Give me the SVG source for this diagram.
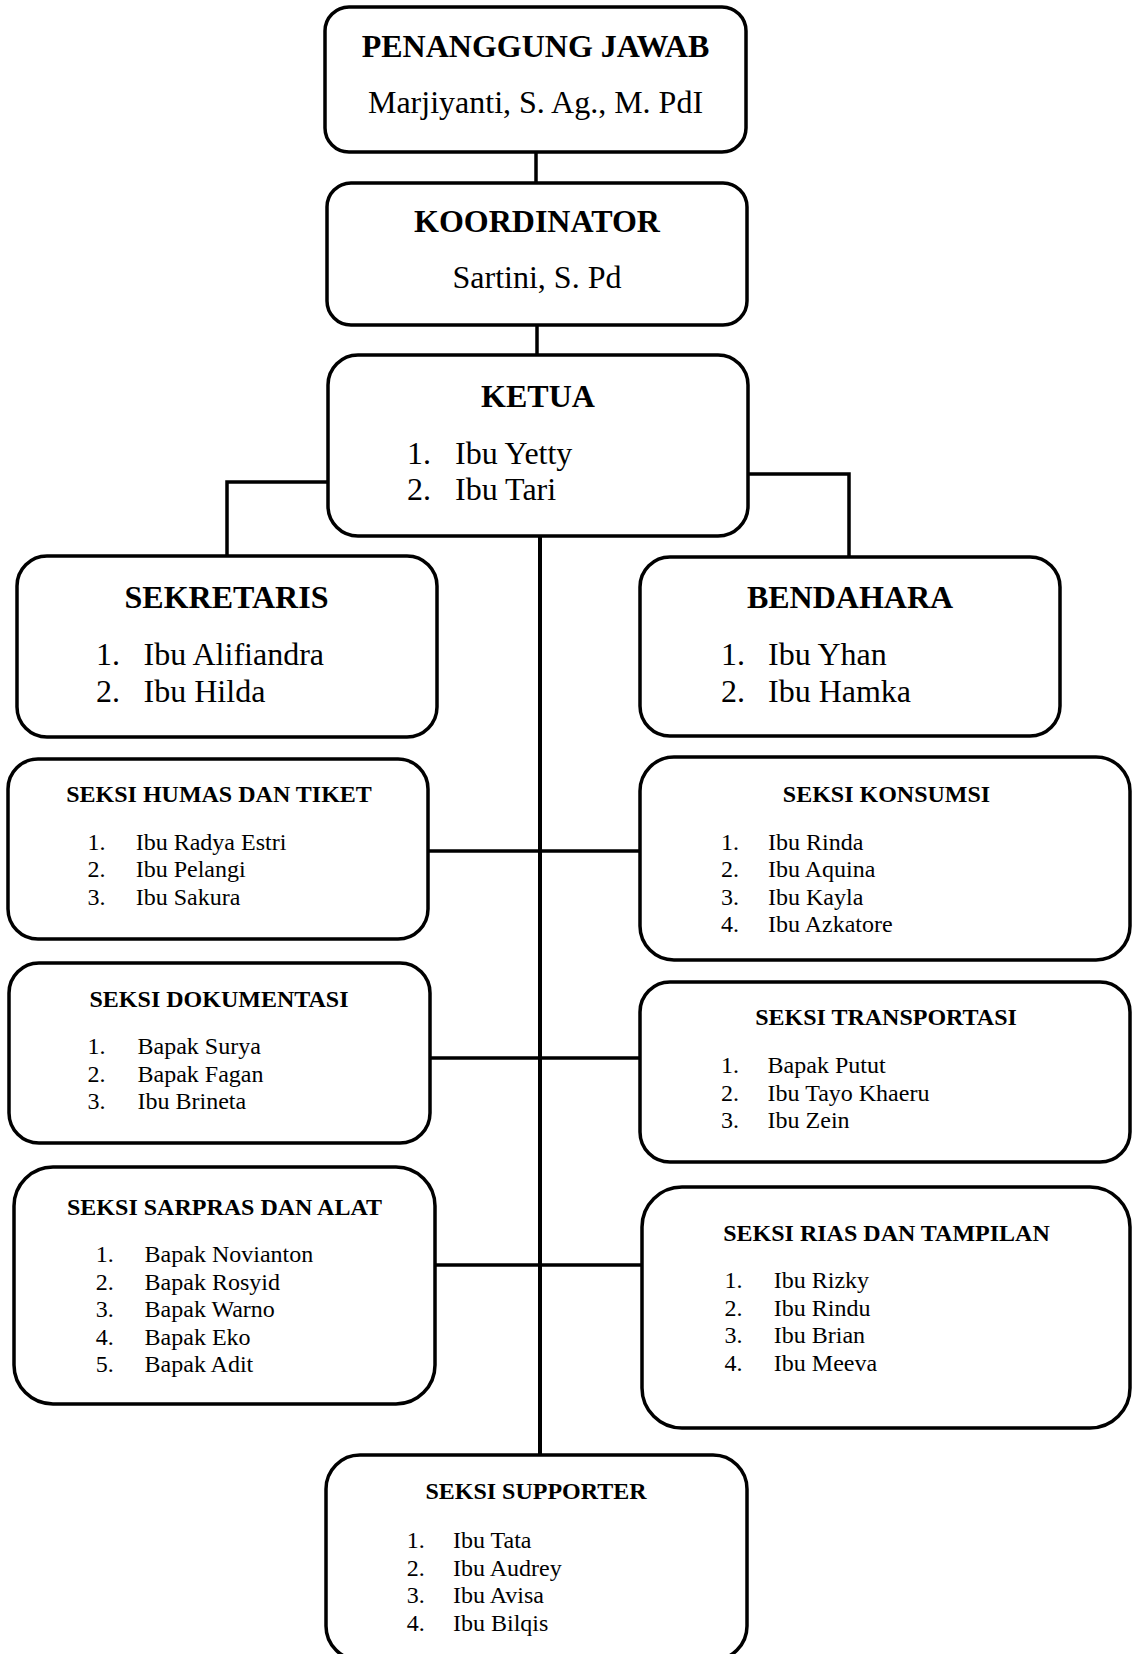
<svg xmlns="http://www.w3.org/2000/svg" width="1133" height="1654" viewBox="0 0 1133 1654">
<style>
.box{fill:#fff;stroke:#000;stroke-width:3.5}
.ln{fill:none;stroke:#000;stroke-width:3.5}
.main{fill:none;stroke:#000;stroke-width:4}
text{font-family:"Liberation Serif","Times New Roman",serif;fill:#000}
.h{font-size:32px;font-weight:bold;text-anchor:middle}
.hn{font-size:32px;text-anchor:middle}
.b{font-size:32px}
.st{font-size:24px;font-weight:bold;text-anchor:middle}
.s{font-size:24px}
</style>
<rect width="1133" height="1654" fill="#fff"/>
<g id="connectors">
<line class="ln" x1="536" y1="152" x2="536" y2="183"/>
<line class="ln" x1="537" y1="325" x2="537" y2="355"/>
<path class="ln" d="M328,482 H227 V556"/>
<path class="ln" d="M748,474 H849 V557"/>
<line class="main" x1="540" y1="537" x2="540" y2="1455"/>
<line class="ln" x1="428" y1="851" x2="640" y2="851"/>
<line class="ln" x1="430" y1="1058" x2="640" y2="1058"/>
<line class="ln" x1="435" y1="1265" x2="642" y2="1265"/>
</g>
<g id="penanggung-jawab">
<rect class="box" x="325" y="7" width="421" height="145" rx="24"/>
<text class="h" x="535.5" y="57">PENANGGUNG JAWAB</text>
<text class="hn" x="535.5" y="113">Marjiyanti, S. Ag., M. PdI</text>
</g>
<g id="koordinator">
<rect class="box" x="327" y="183" width="420" height="142" rx="24"/>
<text class="h" x="537" y="232">KOORDINATOR</text>
<text class="hn" x="537" y="288">Sartini, S. Pd</text>
</g>
<g id="ketua">
<rect class="box" x="328" y="355" width="420" height="181" rx="30"/>
<text class="h" x="538" y="407">KETUA</text>
<text class="b" x="407" y="464">1.</text><text class="b" x="455" y="464">Ibu Yetty</text>
<text class="b" x="407" y="500">2.</text><text class="b" x="455" y="500">Ibu Tari</text>
</g>
<g id="sekretaris">
<rect class="box" x="17" y="556" width="420" height="181" rx="30"/>
<text class="h" x="226.5" y="608">SEKRETARIS</text>
<text class="b" x="96" y="665">1.</text><text class="b" x="143.6" y="665">Ibu Alifiandra</text>
<text class="b" x="96" y="702">2.</text><text class="b" x="143.6" y="702">Ibu Hilda</text>
</g>
<g id="bendahara">
<rect class="box" x="640" y="557" width="420" height="179" rx="30"/>
<text class="h" x="850" y="608">BENDAHARA</text>
<text class="b" x="721" y="665">1.</text><text class="b" x="768" y="665">Ibu Yhan</text>
<text class="b" x="721" y="702">2.</text><text class="b" x="768" y="702">Ibu Hamka</text>
</g>
<g id="seksi-humas">
<rect class="box" x="8" y="759" width="420" height="180" rx="30"/>
<text class="st" x="219" y="802">SEKSI HUMAS DAN TIKET</text>
<text class="s" x="87.5" y="849.5">1.</text><text class="s" x="135.7" y="849.5">Ibu Radya Estri</text>
<text class="s" x="87.5" y="877">2.</text><text class="s" x="135.7" y="877">Ibu Pelangi</text>
<text class="s" x="87.5" y="904.5">3.</text><text class="s" x="135.7" y="904.5">Ibu Sakura</text>
</g>
<g id="seksi-konsumsi">
<rect class="box" x="640" y="757" width="490" height="203" rx="34"/>
<text class="st" x="886.5" y="802">SEKSI KONSUMSI</text>
<text class="s" x="721" y="849.5">1.</text><text class="s" x="768" y="849.5">Ibu Rinda</text>
<text class="s" x="721" y="877">2.</text><text class="s" x="768" y="877">Ibu Aquina</text>
<text class="s" x="721" y="904.5">3.</text><text class="s" x="768" y="904.5">Ibu Kayla</text>
<text class="s" x="721" y="932">4.</text><text class="s" x="768" y="932">Ibu Azkatore</text>
</g>
<g id="seksi-dokumentasi">
<rect class="box" x="9" y="963" width="421" height="180" rx="30"/>
<text class="st" x="219" y="1007">SEKSI DOKUMENTASI</text>
<text class="s" x="87.5" y="1054">1.</text><text class="s" x="137.5" y="1054">Bapak Surya</text>
<text class="s" x="87.5" y="1081.5">2.</text><text class="s" x="137.5" y="1081.5">Bapak Fagan</text>
<text class="s" x="87.5" y="1109">3.</text><text class="s" x="137.5" y="1109">Ibu Brineta</text>
</g>
<g id="seksi-transportasi">
<rect class="box" x="640" y="982" width="490" height="180" rx="30"/>
<text class="st" x="886" y="1025">SEKSI TRANSPORTASI</text>
<text class="s" x="721" y="1073">1.</text><text class="s" x="767.6" y="1073">Bapak Putut</text>
<text class="s" x="721" y="1100.5">2.</text><text class="s" x="767.6" y="1100.5">Ibu Tayo Khaeru</text>
<text class="s" x="721" y="1128">3.</text><text class="s" x="767.6" y="1128">Ibu Zein</text>
</g>
<g id="seksi-sarpras">
<rect class="box" x="14" y="1167" width="421" height="237" rx="39"/>
<text class="st" x="224.5" y="1215">SEKSI SARPRAS DAN ALAT</text>
<text class="s" x="95.7" y="1262">1.</text><text class="s" x="144.6" y="1262">Bapak Novianton</text>
<text class="s" x="95.7" y="1289.5">2.</text><text class="s" x="144.6" y="1289.5">Bapak Rosyid</text>
<text class="s" x="95.7" y="1317">3.</text><text class="s" x="144.6" y="1317">Bapak Warno</text>
<text class="s" x="95.7" y="1344.5">4.</text><text class="s" x="144.6" y="1344.5">Bapak Eko</text>
<text class="s" x="95.7" y="1372">5.</text><text class="s" x="144.6" y="1372">Bapak Adit</text>
</g>
<g id="seksi-rias">
<rect class="box" x="642" y="1187" width="488" height="241" rx="40"/>
<text class="st" x="886.5" y="1241">SEKSI RIAS DAN TAMPILAN</text>
<text class="s" x="724.5" y="1288">1.</text><text class="s" x="773.8" y="1288">Ibu Rizky</text>
<text class="s" x="724.5" y="1315.5">2.</text><text class="s" x="773.8" y="1315.5">Ibu Rindu</text>
<text class="s" x="724.5" y="1343">3.</text><text class="s" x="773.8" y="1343">Ibu Brian</text>
<text class="s" x="724.5" y="1370.5">4.</text><text class="s" x="773.8" y="1370.5">Ibu Meeva</text>
</g>
<g id="seksi-supporter">
<rect class="box" x="326" y="1455" width="421" height="205" rx="34"/>
<text class="st" x="536" y="1499">SEKSI SUPPORTER</text>
<text class="s" x="406.7" y="1548">1.</text><text class="s" x="453" y="1548">Ibu Tata</text>
<text class="s" x="406.7" y="1575.5">2.</text><text class="s" x="453" y="1575.5">Ibu Audrey</text>
<text class="s" x="406.7" y="1603">3.</text><text class="s" x="453" y="1603">Ibu Avisa</text>
<text class="s" x="406.7" y="1630.5">4.</text><text class="s" x="453" y="1630.5">Ibu Bilqis</text>
</g>
</svg>
